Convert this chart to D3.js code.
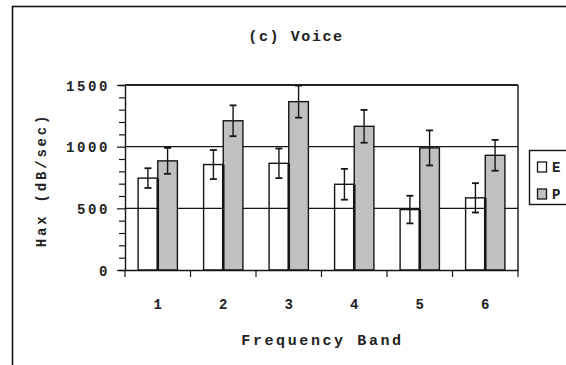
<!DOCTYPE html>
<html><head><meta charset="utf-8">
<script src="https://cdn.jsdelivr.net/npm/d3@7"></script>
<style>
body{margin:0;background:#fff;}
svg text{font-family:"Liberation Mono","Courier New",monospace;font-weight:bold;fill:#222;}
</style></head>
<body><svg id="c" width="566" height="365"></svg>
<script>
const title = "(c) Voice";
const xTitle = "Frequency Band";
const yTitle = "Hax (dB/sec)";
const bands = ["1","2","3","4","5","6"];
const seriesNames = ["E","P"];
const valuesE = [745, 855, 865, 695, 490, 585];
const errE    = [80, 118, 120, 125, 112, 119];
const valuesP = [885, 1210, 1365, 1165, 990, 930];
const errP    = [105, 125, 130, 133, 142, 125];
const yTicks = [0, 500, 1000, 1500];

const svg = d3.select("#c");
const stroke = "#151515";
const L = 125, R = 518, T = 85, B = 270;

// outer frame
svg.append("rect").attr("x",12.5).attr("y",6.5).attr("width",620).attr("height",420)
  .attr("fill","none").attr("stroke",stroke).attr("stroke-width",1.6);

const x = d3.scaleBand().domain(bands).range([L,R]).paddingInner(0).paddingOuter(0);
const y = d3.scaleLinear().domain([0,1500]).range([B,T]);

// gridlines
svg.append("g").selectAll("line").data(yTicks.filter(d=>d>0)).join("line")
  .attr("x1",L).attr("x2",R).attr("y1",d=>y(d)).attr("y2",d=>y(d))
  .attr("stroke",stroke).attr("stroke-width",1.4);
// right border
svg.append("line").attr("x1",R).attr("x2",R).attr("y1",T).attr("y2",B)
  .attr("stroke",stroke).attr("stroke-width",1.4);

const bw = x.bandwidth()*0.3;
const cx = d => x(d) + x.bandwidth()/2;

const g = svg.append("g");
// E bars (unfilled)
g.selectAll(".e").data(bands).join("rect").attr("class","e")
  .attr("x",(d)=>cx(d)-bw).attr("width",bw)
  .attr("y",(d,i)=>y(valuesE[i])).attr("height",(d,i)=>B-y(valuesE[i]))
  .attr("fill","none").attr("stroke",stroke).attr("stroke-width",1.4);
// P bars
g.selectAll(".p").data(bands).join("rect").attr("class","p")
  .attr("x",(d)=>cx(d)).attr("width",bw)
  .attr("y",(d,i)=>y(valuesP[i])).attr("height",(d,i)=>B-y(valuesP[i]))
  .attr("fill","#c0c0c0").attr("stroke",stroke).attr("stroke-width",1.4);
// thick line between bars
g.selectAll(".mid").data(bands).join("line")
  .attr("x1",d=>cx(d)).attr("x2",d=>cx(d))
  .attr("y1",(d,i)=>y(Math.min(valuesE[i],valuesP[i]))).attr("y2",B)
  .attr("stroke",stroke).attr("stroke-width",2.6);

function errorBars(vals, errs, off){
  const eg = svg.append("g").attr("stroke",stroke).attr("stroke-width",1.4);
  bands.forEach((d,i)=>{
    const xc = cx(d)+off;
    const y1 = y(vals[i]+errs[i]), y2 = y(vals[i]-errs[i]);
    eg.append("line").attr("x1",xc).attr("x2",xc).attr("y1",y1).attr("y2",y2);
    eg.append("line").attr("x1",xc-3.5).attr("x2",xc+3.5).attr("y1",y1).attr("y2",y1).attr("stroke-width",1.8);
    eg.append("line").attr("x1",xc-3.5).attr("x2",xc+3.5).attr("y1",y2).attr("y2",y2).attr("stroke-width",1.8);
  });
}
errorBars(valuesE, errE, -bw/2);
errorBars(valuesP, errP, bw/2);

// top border
svg.append("line").attr("x1",L).attr("x2",R).attr("y1",T).attr("y2",T)
  .attr("stroke",stroke).attr("stroke-width",1.4);

// y axis
const ya = svg.append("g").attr("transform",`translate(${L},0)`)
  .call(d3.axisLeft(y).tickValues(d3.range(0,1501,100)).tickSize(6).tickPadding(9)
    .tickFormat(d=> yTicks.includes(d) ? d : ""));
ya.select(".domain").attr("stroke",stroke).attr("stroke-width",1.4);
ya.selectAll(".tick line").attr("stroke",stroke).attr("stroke-width",1.2)
  .attr("x2",d=> yTicks.includes(d) ? -8 : -6);
ya.selectAll(".tick text").attr("font-size",14).style("letter-spacing","2.6px")
  .attr("dy","0.38em").attr("fill","#222")
  .style("font-family","Liberation Mono").style("font-weight","bold");

// x axis
const xa = svg.append("g").attr("transform",`translate(0,${B})`)
  .call(d3.axisBottom(x).tickSize(0).tickPadding(29));
xa.select(".domain").attr("stroke",stroke).attr("stroke-width",1.4);
xa.selectAll(".tick text").attr("font-size",14).attr("fill","#222")
  .style("font-family","Liberation Mono").style("font-weight","bold");
// boundary ticks
svg.append("g").selectAll("line").data(bands.map(d=>x(d)).concat([R])).join("line")
  .attr("x1",d=>d).attr("x2",d=>d).attr("y1",B).attr("y2",B+7)
  .attr("stroke",stroke).attr("stroke-width",1.2);

// titles
svg.append("text").attr("x",296).attr("y",41).attr("text-anchor","middle")
  .attr("font-size",15).style("letter-spacing","1.6px").text(title);
svg.append("text").attr("x",(L+R)/2+1).attr("y",345).attr("text-anchor","middle")
  .attr("font-size",15).style("letter-spacing","2.6px").text(xTitle);
svg.append("text").attr("transform","translate(46,180) rotate(-90)").attr("text-anchor","middle")
  .attr("font-size",14).style("letter-spacing","2.8px").text(yTitle);

// legend
const lg = svg.append("g");
lg.append("rect").attr("x",529.5).attr("y",150.5).attr("width",60).attr("height",54)
  .attr("fill","#fff").attr("stroke",stroke).attr("stroke-width",1.4);
const fills = ["#fff","#c0c0c0"];
seriesNames.forEach((s,i)=>{
  const yy = 162 + i*27;
  lg.append("rect").attr("x",537.5).attr("y",yy).attr("width",9).attr("height",10)
    .attr("fill",fills[i]).attr("stroke",stroke).attr("stroke-width",1.3);
  lg.append("text").attr("x",552).attr("y",yy+10).attr("font-size",14).text(s);
});
</script></body></html>
